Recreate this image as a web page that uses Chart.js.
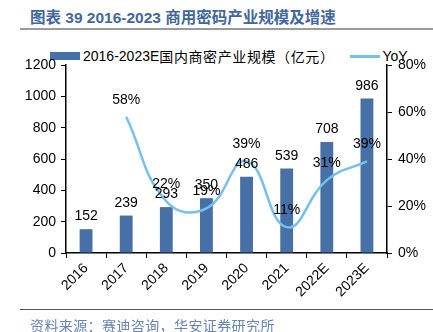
<!DOCTYPE html>
<html>
<head>
<meta charset="utf-8">
<script src="https://cdn.jsdelivr.net/npm/chart.js@4"></script>
<style>
    body { margin: 0; background: #fff; }
    #wrap { position: relative; width: 433px; height: 332px; overflow: hidden; font-family: "Liberation Sans", Arial, "Noto Sans CJK SC", sans-serif; }
    #title { position: absolute; left: 30px; top: 5px; font: bold 15.5px "Liberation Sans", "Noto Sans CJK SC", sans-serif; color: #42679c; white-space: nowrap; }
    #titleRule { position: absolute; left: 20px; right: 0; top: 28px; height: 2px; background: #9a9a9a; }
    #footRule { position: absolute; left: 20px; right: 0; top: 309px; height: 1px; background: #555; }
    #source { position: absolute; left: 30px; top: 315px; font: 14px "Noto Sans CJK SC", sans-serif; letter-spacing: 0.4px; color: #6684b8; white-space: nowrap; }
    #legend { position: absolute; left: 50px; top: 46px; font-size: 14px; color: #000; white-space: nowrap; display: flex; align-items: center; }
    #legend .cjk { letter-spacing: 0.6px; }
    .swatch-bar { width: 30px; height: 8px; background: #4670a6; margin-right: 3px; }
    .swatch-line { width: 30px; height: 3px; background: #76c0ee; margin: 0 3px 0 15px; }
    canvas { position: absolute; left: 0; top: 0; }
</style>
</head>
<body>
<div id="wrap">
    <div id="title">图表 39 2016-2023 商用密码产业规模及增速</div>
    <div id="titleRule"></div>
    <div id="legend">
        <span class="swatch-bar"></span><span>2016-2023E</span><span class="cjk">国内商密产业规模（亿元）</span>
        <span class="swatch-line"></span><span>YoY</span>
    </div>
    <canvas id="chart" width="433" height="332"></canvas>
    <div id="footRule"></div>
    <div id="source">资料来源：赛迪咨询，华安证券研究所</div>
</div>
<script>
// Chart data
const years = ['2016', '2017', '2018', '2019', '2020', '2021', '2022E', '2023E'];
const marketSize = [152, 239, 293, 350, 486, 539, 708, 986];
const yoy = [null, 58, 22, 19, 39, 11, 31, 39];

const barColor = '#4670a6';
const lineColor = '#76c0ee';

// Draws value labels above bars and line points
const valueLabels = {
    id: 'valueLabels',
    afterDatasetsDraw(chart) {
        const ctx = chart.ctx;
        ctx.save();
        ctx.font = '14px "Liberation Sans", Arial, sans-serif';
        ctx.fillStyle = '#000';
        ctx.textAlign = 'center';
        ctx.textBaseline = 'alphabetic';

        chart.getDatasetMeta(0).data.forEach((bar, i) => {
            ctx.fillText(String(marketSize[i]), bar.x, bar.y - 9);
        });
        chart.getDatasetMeta(1).data.forEach((pt, i) => {
            if (yoy[i] === null) return;
            ctx.fillText(yoy[i] + '%', pt.x, pt.y - 13);
        });
        ctx.restore();
    }
};

const axisFont = { family: '"Liberation Sans", Arial, sans-serif', size: 14 };

new Chart(document.getElementById('chart'), {
    type: 'bar',
    data: {
        labels: years,
        datasets: [{
            label: '2016-2023E国内商密产业规模（亿元）',
            data: marketSize,
            backgroundColor: barColor,
            barPercentage: 0.32,
            categoryPercentage: 1,
            yAxisID: 'y',
            order: 2
        }, {
            type: 'line',
            label: 'YoY',
            data: yoy,
            borderColor: lineColor,
            borderWidth: 2.5,
            tension: 0.45,
            pointRadius: 0,
            fill: false,
            yAxisID: 'y1',
            order: 1
        }]
    },
    options: {
        responsive: false,
        animation: false,
        layout: { padding: { left: 16, right: 0, top: 65, bottom: 0 } },
        plugins: {
            legend: { display: false },
            tooltip: { enabled: false }
        },
        scales: {
            x: {
                grid: { drawOnChartArea: false, tickLength: 5, color: '#000', offset: true },
                border: { color: '#000', width: 1.5 },
                ticks: { color: '#000', font: axisFont, minRotation: 45, maxRotation: 45, padding: 2 },
                afterFit(scale) { scale.height = 79; }
            },
            y: {
                position: 'left',
                min: 0,
                max: 1200,
                grid: { drawOnChartArea: false, tickLength: 5, color: '#000' },
                border: { color: '#000', width: 1.5 },
                ticks: { stepSize: 200, color: '#000', font: axisFont, padding: 5, callback: v => String(v) },
                afterFit(scale) { scale.width = 50; }
            },
            y1: {
                position: 'right',
                min: 0,
                max: 80,
                grid: { drawOnChartArea: false, tickLength: 5, color: '#000' },
                border: { color: '#000', width: 1.5 },
                ticks: { stepSize: 20, color: '#000', font: axisFont, padding: 6, callback: v => v + '%' },
                afterFit(scale) { scale.width = 46; }
            }
        }
    },
    plugins: [valueLabels]
});
</script>
</body>
</html>
